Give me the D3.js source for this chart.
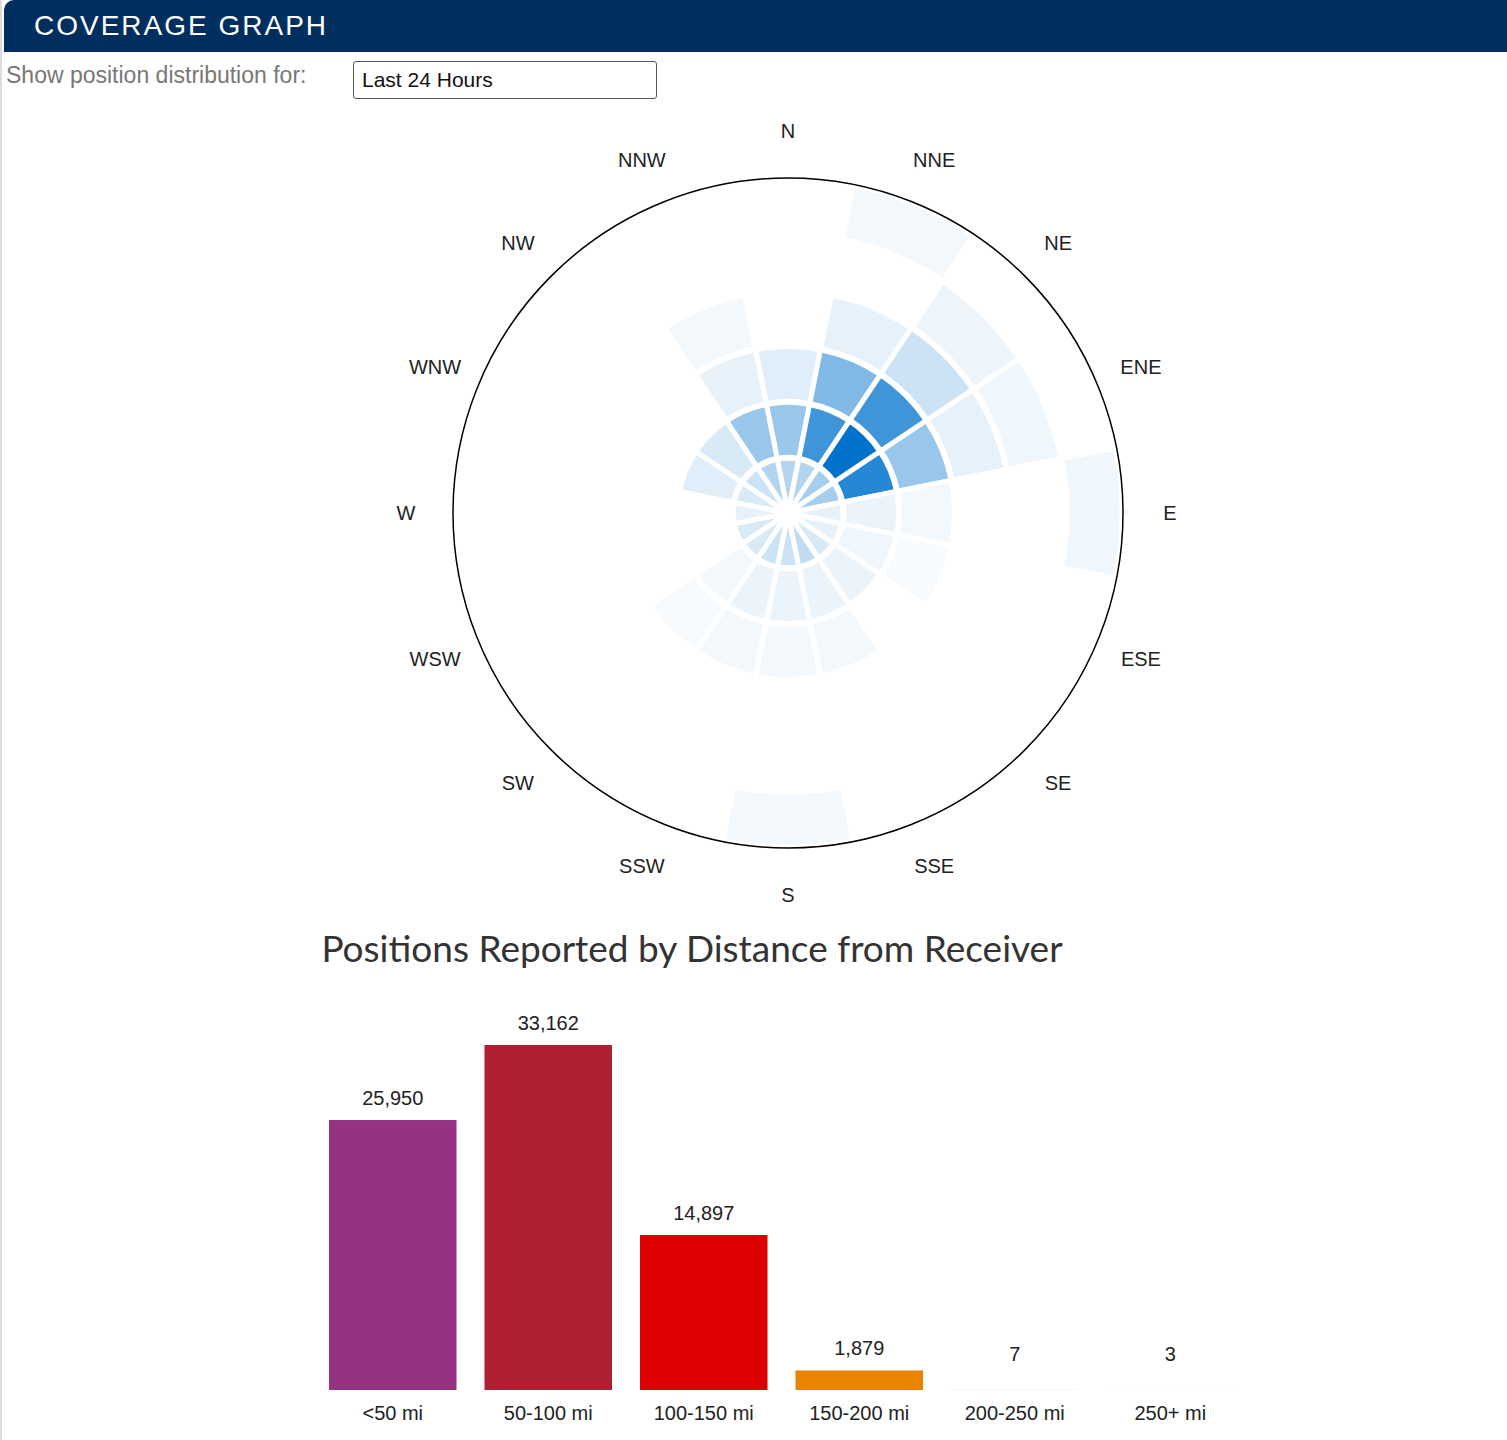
<!DOCTYPE html>
<html>
<head>
<meta charset="utf-8">
<script src="https://cdn.jsdelivr.net/npm/d3@7"></script>
<style>
  body { margin: 0; background: #fff; font-family: "Liberation Sans", Arial, sans-serif; }
  #wrap { position: relative; width: 1507px; height: 1440px; border-left: 2px solid #ddd; box-sizing: border-box; }
  #head { position: absolute; left: 2px; top: 0; width: 1505px; height: 52px; background: #002f5f; border-top-left-radius: 10px;
          color: #fff; font-size: 28px; letter-spacing: 2px; line-height: 52px; padding-left: 30px; box-sizing: border-box; }
  #ctl { position: absolute; left: 4px; top: 62px; font-size: 23px; color: #777; }
  #sel { position: absolute; left: 351px; top: 61px; width: 304px; height: 38px; border: 1px solid #555; border-radius: 3px;
         box-sizing: border-box; font-size: 21px; color: #111; padding-left: 8px; line-height: 36px; }
  svg { position: absolute; left: 0; top: 0; }
</style>
</head>
<body>
<div id="wrap">
  <div id="head">COVERAGE GRAPH</div>
  <div id="ctl">Show position distribution for:</div>
  <div id="sel">Last 24 Hours</div>
</div>
<script>
const directions = ['N','NNE','NE','ENE','E','ESE','SE','SSE','S','SSW','SW','WSW','W','WNW','NW','NNW'];
// intensity (0..1) per ring, per direction (N clockwise)
const ring1 = [0.3, 0.3, 0.35, 0.35, 0.1, 0.1, 0.15, 0.25, 0.2, 0.2, 0.15, 0.15, 0.1, 0.15, 0.2, 0.3];
const ring2 = [0.4, 0.75, 1.0, 0.85, 0.08, 0.06, 0.08, 0.08, 0.08, 0.08, 0.05, 0, 0, 0.12, 0.15, 0.4];
const ring3 = [0.12, 0.5, 0.75, 0.4, 0.05, 0.03, 0, 0.05, 0.05, 0.05, 0.03, 0, 0, 0, 0, 0.1];
const ring4 = [0, 0.1, 0.2, 0.1, 0, 0, 0, 0, 0, 0, 0, 0, 0, 0, 0, 0.05];
const ring5 = [0, 0, 0.07, 0.06, 0, 0, 0, 0, 0, 0, 0, 0, 0, 0, 0, 0];
const ring6 = [0, 0.05, 0, 0, 0.06, 0, 0, 0, 0.05, 0, 0, 0, 0, 0, 0, 0];
const rings = [ring1, ring2, ring3, ring4, ring5, ring6];

const distLabels = ['<50 mi', '50-100 mi', '100-150 mi', '150-200 mi', '200-250 mi', '250+ mi'];
const distValues = [25950, 33162, 14897, 1879, 7, 3];
const distColors = ['#963282', '#b11f33', '#dd0000', '#ea8400', '#ea8400', '#ea8400'];

const svg = d3.select('#wrap').append('svg').attr('width', 1507).attr('height', 1440);

// polar plot
const cx = 786, cy = 513, R = 335;
const rScale = d3.scaleLinear().domain([0, 6]).range([0, R]);
const aScale = d3.scaleLinear().domain([0, 16]).range([0, 2 * Math.PI]);
const color = d3.interpolateRgb('#ffffff', '#0072cc');
const arc = d3.arc();
const cells = [];
rings.forEach((r, ri) => r.forEach((v, di) => { if (v > 0) cells.push({ ri, di, v }); }));
const polar = svg.append('g').attr('transform', 'translate(' + cx + ',' + cy + ')');
polar.selectAll('path.cell').data(cells).enter().append('path')
  .attr('class', 'cell')
  .attr('d', d => arc({ innerRadius: rScale(d.ri), outerRadius: rScale(d.ri + 1) - 1,
                        startAngle: aScale(d.di - 0.5), endAngle: aScale(d.di + 0.5) }))
  .attr('fill', d => color(d.v))
  .attr('stroke', '#fff').attr('stroke-width', 5);
polar.append('circle').attr('r', R).attr('fill', 'none').attr('stroke', '#000').attr('stroke-width', 1.5);
polar.selectAll('text.dir').data(directions).enter().append('text')
  .attr('class', 'dir')
  .attr('x', (d, i) => 382 * Math.sin(aScale(i)))
  .attr('y', (d, i) => -382 * Math.cos(aScale(i)))
  .attr('dy', '0.35em').attr('text-anchor', 'middle')
  .attr('font-size', 20).attr('fill', '#222')
  .text(d => d);

// bar chart
svg.append('text').attr('x', 690).attr('y', 962).attr('text-anchor', 'middle')
  .attr('font-family', 'Lato, sans-serif').attr('font-size', 37).attr('fill', '#333')
  .text('Positions Reported by Distance from Receiver');
const base = 1390;
const x = d3.scaleBand().domain(distLabels).range([313, 1246]).paddingInner(0.18).paddingOuter(0.09);
const y = d3.scaleLinear().domain([0, 33162]).range([base, 1045]);
const bars = svg.append('g');
bars.selectAll('rect').data(distValues).enter().append('rect')
  .attr('x', (d, i) => x(distLabels[i]))
  .attr('y', d => y(d))
  .attr('width', x.bandwidth())
  .attr('height', d => base - y(d))
  .attr('fill', (d, i) => distColors[i]);
bars.selectAll('text.val').data(distValues).enter().append('text')
  .attr('class', 'val')
  .attr('x', (d, i) => x(distLabels[i]) + x.bandwidth() / 2)
  .attr('y', d => Math.min(y(d), base - 14) - 15)
  .attr('text-anchor', 'middle').attr('font-size', 20).attr('fill', '#222')
  .text(d => d3.format(',')(d));
bars.selectAll('text.cat').data(distLabels).enter().append('text')
  .attr('class', 'cat')
  .attr('x', d => x(d) + x.bandwidth() / 2)
  .attr('y', 1420)
  .attr('text-anchor', 'middle').attr('font-size', 20).attr('fill', '#222')
  .text(d => d);
</script>
</body>
</html>
